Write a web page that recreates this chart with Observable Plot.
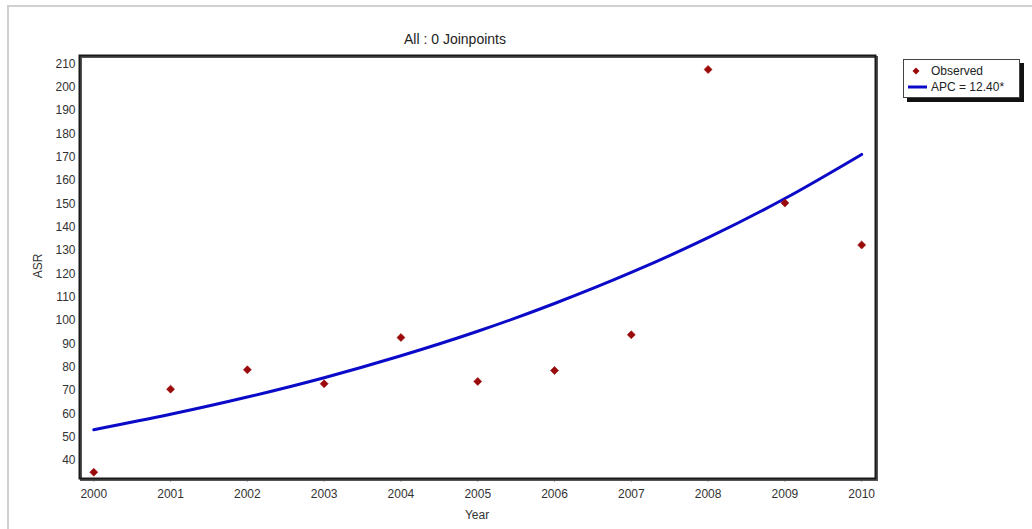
<!DOCTYPE html>
<html>
<head>
<meta charset="utf-8">
<script src="https://cdn.jsdelivr.net/npm/d3@7"></script>
<script src="https://cdn.jsdelivr.net/npm/@observablehq/plot@0.6"></script>
<style>
  html, body { margin: 0; padding: 0; background: #fff; }
  #wrap { position: relative; width: 1032px; height: 529px; overflow: hidden; font-family: "Liberation Sans", Arial, sans-serif; }
  #border { position: absolute; left: 7px; top: 5px; width: 1040px; height: 540px; border-left: 2px solid #d0d0d0; border-top: 2px solid #d0d0d0; }
  .txt { position: absolute; color: #333; font-size: 12px; white-space: nowrap; }
  #title { left: 455px; top: 31px; transform: translateX(-50%); font-size: 14px; color: #222; }
  #xlabel { left: 477px; top: 508px; transform: translateX(-50%); }
  #ylabel { left: 38px; top: 266px; transform: translate(-50%, -50%) rotate(-90deg); }
  #legend { position: absolute; left: 903px; top: 59px; width: 115px; height: 37px; border: 1px solid #444; background: #fff; box-shadow: 4px 4px 0 #111; }
  #legend .row { position: absolute; left: 4px; height: 16px; display: flex; align-items: center; font-size: 12px; color: #222; }
</style>
</head>
<body>
<div id="wrap">
  <div id="border"></div>
  <div id="chart"></div>
  <div id="title" class="txt">All : 0 Joinpoints</div>
  <div id="xlabel" class="txt">Year</div>
  <div id="ylabel" class="txt">ASR</div>
  <div id="legend"></div>
</div>
<script>
const years = [2000, 2001, 2002, 2003, 2004, 2005, 2006, 2007, 2008, 2009, 2010];
const observed = [35.0, 70.6, 78.9, 72.9, 92.7, 73.9, 78.6, 93.9, 207.6, 150.4, 132.4];
const fitted = [53.2, 59.8, 67.2, 75.5, 84.9, 95.4, 107.3, 120.6, 135.5, 152.3, 171.2];
const yTicks = [40, 50, 60, 70, 80, 90, 100, 110, 120, 130, 140, 150, 160, 170, 180, 190, 200, 210];
const legendLabels = ["Observed", "APC = 12.40*"];
const pointColor = "#9b0a0a";
const lineColor = "#0a0ac8";

const obsData = years.map((y, i) => ({year: y, value: observed[i]}));
const fitData = years.map((y, i) => ({year: y, value: fitted[i]}));

const chart = Plot.plot({
  width: 1032,
  height: 529,
  marginLeft: 79,
  marginRight: 157,
  marginTop: 55,
  marginBottom: 51,
  style: {background: "transparent", fontFamily: "Liberation Sans, Arial, sans-serif", fontSize: "12px", color: "#333"},
  x: {domain: [1999.814, 2010.18], ticks: years, tickFormat: d => String(d), tickSize: 4, tickPadding: 7, label: null},
  y: {domain: [32.3, 213.6], ticks: yTicks, tickSize: 0, tickPadding: 4, label: null},
  marks: [
    Plot.axisX({ticks: years, tickFormat: d => String(d), tickSize: 4, tickPadding: 7, stroke: "#aaa", fill: "#333", label: null}),
    Plot.axisY({ticks: yTicks, tickSize: 0, tickPadding: 4, fill: "#333", label: null}),
    Plot.line(fitData, {x: "year", y: "value", stroke: lineColor, strokeWidth: 3, curve: "monotone-x"}),
    Plot.dot(obsData, {x: "year", y: "value", symbol: "diamond2", r: 3.6, fill: pointColor, stroke: pointColor, strokeWidth: 0.6}),
    Plot.frame({stroke: "#555", strokeWidth: 2, dx: 1.5, dy: 1.5}),
    Plot.frame({stroke: "#1a1a1a", strokeWidth: 2})
  ]
});
document.getElementById("chart").appendChild(chart);

// legend
const legend = document.getElementById("legend");
legendLabels.forEach((lab, i) => {
  const row = document.createElement("div");
  row.className = "row";
  row.style.top = (i === 0 ? 3 : 19) + "px";
  const sw = i === 0
    ? `<svg width="20" height="12"><path d="M8,2.5 L11.5,6 L8,9.5 L4.5,6 Z" fill="${pointColor}"/></svg>`
    : `<svg width="20" height="12"><line x1="0" y1="6" x2="19" y2="6" stroke="${lineColor}" stroke-width="3"/></svg>`;
  row.innerHTML = sw + `<span style="margin-left:3px">${lab}</span>`;
  legend.appendChild(row);
});
</script>
</body>
</html>
